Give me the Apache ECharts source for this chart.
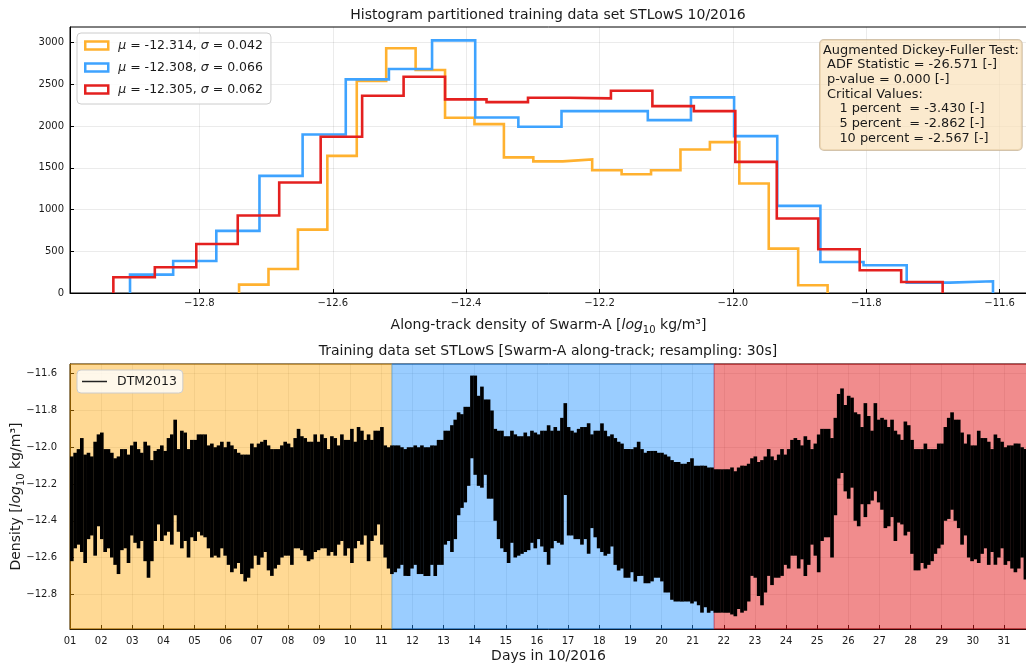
<!DOCTYPE html>
<html>
<head>
<meta charset="utf-8">
<script src="https://cdn.jsdelivr.net/npm/echarts@6/dist/echarts.min.js"></script>
<style>
  html, body { margin: 0; padding: 0; background: #ffffff; }
  #chart { width: 1026px; height: 667px; }
</style>
</head>
<body>
<div id="chart"></div>
<script>
// ---------- Histogram of the three partitions (20 bins each) ----------
const histNames = [
  'μ = -12.314, σ = 0.042',
  'μ = -12.308, σ = 0.066',
  'μ = -12.305, σ = 0.062'
];
// [first bin edge, last bin edge] per partition
const rangeOrange = [-12.7405, -11.858];
const rangeBlue = [-12.904, -11.610];
const rangeRed = [-12.929, -11.6855];
const countsOrange = [100, 288, 760, 1644, 2540, 2933, 2672, 2100, 2024, 1626,
                      1577, 1600, 1472, 1424, 1472, 1720, 1808, 1312, 532, 92];
const countsBlue = [220, 384, 744, 1404, 1900, 2560, 2684, 3028, 2104, 1992,
                    2180, 2180, 2072, 2344, 1880, 1044, 372, 332, 124, 140];
const countsRed = [188, 308, 588, 928, 1324, 1872, 2364, 2592, 2320, 2288,
                   2340, 2332, 2424, 2240, 2180, 1572, 892, 524, 272, 132];
const histTicksX = [-12.8, -12.6, -12.4, -12.2, -12.0, -11.8, -11.6];
const histTicksY = [0, 500, 1000, 1500, 2000, 2500, 3000];

const adfLines = [
  'Augmented Dickey-Fuller Test:',
  ' ADF Statistic = -26.571 [-]',
  ' p-value = 0.000 [-]',
  ' Critical Values:',
  '    1 percent  = -3.430 [-]',
  '    5 percent  = -2.862 [-]',
  '    10 percent = -2.567 [-]'
];

// ---------- DTM2013 along-track density (per-sample max / min) ----------
const sampleStartDay = 1.0;
const sampleStepDays = 0.1071;
const densityUpper = [
  -12.05,-12.03,-12.01,-11.95,-12.04,-12.03,-12.05,-11.97,-11.93,-11.92,
  -12.01,-12.01,-12.03,-12.06,-12.05,-12.01,-12.01,-12.04,-11.99,-11.97,
  -12.01,-12.03,-11.97,-11.99,-12.07,-12.02,-12.01,-11.99,-12.02,-11.95,
  -11.93,-11.85,-12.01,-11.91,-11.92,-12.01,-11.96,-11.96,-11.93,-11.93,
  -11.93,-11.99,-11.98,-12.00,-11.99,-11.97,-12.00,-11.97,-11.99,-12.01,
  -12.03,-12.04,-12.04,-12.04,-11.98,-12.00,-11.98,-11.97,-11.96,-11.99,
  -12.01,-12.01,-12.01,-11.99,-11.97,-11.98,-12.00,-11.95,-11.90,-11.94,
  -11.95,-11.97,-11.97,-11.93,-11.97,-11.93,-11.95,-12.01,-11.94,-11.95,
  -11.99,-11.93,-11.96,-11.96,-11.90,-11.97,-11.89,-11.91,-11.96,-11.93,
  -11.96,-11.91,-11.91,-11.89,-11.99,-12.00,-11.99,-11.99,-11.99,-12.00,
  -12.01,-12.00,-12.00,-11.99,-12.00,-11.99,-12.00,-12.00,-11.99,-11.99,
  -11.96,-11.96,-11.91,-11.91,-11.88,-11.85,-11.81,-11.82,-11.78,-11.78,
  -11.61,-11.61,-11.72,-11.67,-11.74,-11.74,-11.80,-11.90,-11.91,-11.91,
  -11.94,-11.94,-11.91,-11.93,-11.94,-11.94,-11.92,-11.94,-11.91,-11.92,
  -11.93,-11.91,-11.91,-11.88,-11.91,-11.89,-11.91,-11.84,-11.76,-11.89,
  -11.91,-11.92,-11.90,-11.89,-11.89,-11.87,-11.93,-11.91,-11.91,-11.87,
  -11.91,-11.94,-11.93,-11.95,-11.97,-11.98,-12.01,-12.01,-12.01,-12.00,
  -11.97,-12.01,-12.03,-12.02,-12.02,-12.02,-12.03,-12.03,-12.04,-12.05,
  -12.07,-12.08,-12.08,-12.09,-12.09,-12.08,-12.06,-12.10,-12.10,-12.10,
  -12.10,-12.11,-12.11,-12.12,-12.12,-12.12,-12.12,-12.12,-12.11,-12.13,
  -12.11,-12.10,-12.10,-12.09,-12.06,-12.05,-12.08,-12.07,-12.05,-12.01,
  -12.05,-12.07,-12.04,-12.01,-12.04,-12.01,-11.96,-11.95,-11.96,-11.99,
  -11.94,-11.96,-12.01,-11.98,-11.93,-11.90,-11.90,-11.90,-11.95,-11.84,
  -11.71,-11.68,-11.77,-11.72,-11.73,-11.81,-11.82,-11.89,-11.76,-11.83,
  -11.91,-11.76,-11.85,-11.84,-11.85,-11.89,-11.85,-11.91,-11.93,-11.96,
  -11.86,-11.88,-11.96,-12.01,-12.01,-12.01,-11.98,-12.01,-12.01,-12.01,
  -11.98,-11.98,-11.89,-11.84,-11.81,-11.85,-11.85,-11.92,-11.98,-11.93,
  -11.99,-11.99,-11.91,-11.95,-11.95,-11.97,-12.01,-11.93,-11.95,-11.97,
  -12.00,-11.99,-11.99,-11.98,-11.98,-12.00,-12.01
];
const densityLower = [
  -12.62,-12.55,-12.53,-12.57,-12.63,-12.50,-12.48,-12.59,-12.43,-12.50,
  -12.57,-12.55,-12.60,-12.64,-12.69,-12.56,-12.55,-12.63,-12.48,-12.52,
  -12.55,-12.51,-12.62,-12.71,-12.62,-12.51,-12.42,-12.51,-12.48,-12.46,
  -12.53,-12.37,-12.46,-12.55,-12.51,-12.60,-12.49,-12.51,-12.46,-12.48,
  -12.49,-12.55,-12.60,-12.59,-12.60,-12.55,-12.59,-12.64,-12.68,-12.66,
  -12.63,-12.69,-12.73,-12.71,-12.66,-12.59,-12.64,-12.60,-12.57,-12.67,
  -12.70,-12.66,-12.64,-12.60,-12.59,-12.59,-12.64,-12.55,-12.55,-12.56,
  -12.59,-12.62,-12.61,-12.57,-12.56,-12.55,-12.55,-12.59,-12.57,-12.59,
  -12.53,-12.51,-12.59,-12.55,-12.63,-12.55,-12.51,-12.53,-12.48,-12.62,
  -12.51,-12.48,-12.42,-12.53,-12.60,-12.66,-12.69,-12.68,-12.66,-12.64,
  -12.70,-12.70,-12.66,-12.64,-12.69,-12.69,-12.70,-12.70,-12.64,-12.70,
  -12.64,-12.64,-12.53,-12.51,-12.57,-12.50,-12.37,-12.33,-12.30,-12.21,
  -12.06,-12.15,-12.21,-12.22,-12.15,-12.28,-12.28,-12.40,-12.50,-12.55,
  -12.57,-12.63,-12.52,-12.60,-12.59,-12.58,-12.57,-12.56,-12.52,-12.55,
  -12.50,-12.54,-12.57,-12.64,-12.55,-12.51,-12.52,-12.53,-12.26,-12.48,
  -12.48,-12.50,-12.50,-12.53,-12.50,-12.58,-12.44,-12.49,-12.55,-12.57,
  -12.59,-12.58,-12.54,-12.64,-12.67,-12.66,-12.71,-12.71,-12.68,-12.73,
  -12.70,-12.70,-12.74,-12.74,-12.73,-12.71,-12.71,-12.73,-12.79,-12.79,
  -12.83,-12.84,-12.84,-12.84,-12.84,-12.84,-12.85,-12.84,-12.86,-12.90,
  -12.87,-12.90,-12.89,-12.90,-12.90,-12.90,-12.90,-12.90,-12.91,-12.92,
  -12.88,-12.90,-12.89,-12.84,-12.70,-12.71,-12.81,-12.86,-12.79,-12.70,
  -12.75,-12.71,-12.71,-12.70,-12.64,-12.66,-12.59,-12.59,-12.66,-12.61,
  -12.70,-12.64,-12.53,-12.59,-12.68,-12.51,-12.49,-12.49,-12.60,-12.37,
  -12.17,-12.14,-12.24,-12.28,-12.22,-12.40,-12.43,-12.31,-12.38,-12.31,
  -12.29,-12.24,-12.30,-12.34,-12.44,-12.43,-12.38,-12.51,-12.41,-12.42,
  -12.48,-12.46,-12.58,-12.67,-12.67,-12.63,-12.66,-12.64,-12.62,-12.58,
  -12.55,-12.53,-12.40,-12.39,-12.34,-12.40,-12.44,-12.53,-12.48,-12.60,
  -12.62,-12.61,-12.63,-12.58,-12.55,-12.64,-12.57,-12.64,-12.60,-12.55,
  -12.64,-12.62,-12.66,-12.68,-12.66,-12.60,-12.72
];
// day-of-month boundaries of the three training partitions
const partitionEdges = [1.0, 11.34, 21.69, 31.74];
const dayTicks = [1, 2, 3, 4, 5, 6, 7, 8, 9, 10, 11, 12, 13, 14, 15, 16,
                  17, 18, 19, 20, 21, 22, 23, 24, 25, 26, 27, 28, 29, 30, 31];
const densityTicks = [-12.8, -12.6, -12.4, -12.2, -12.0, -11.8, -11.6];

// ---------- styling ----------
const FONT = 'DejaVu Sans';
const histLineColors = ['#ffb12f', '#3ea3ff', '#e4201f'];
const bandColors = ['rgba(255,165,0,0.42)', 'rgba(30,144,255,0.45)', 'rgba(228,26,28,0.5)'];
const TEXT = '#1a1a1a';
const GRIDLINE = 'rgba(0,0,0,0.08)';

const minusFmt = (v, digits) => v.toFixed(digits).replace('-', '\u2212');

// step outline of a histogram (matplotlib histtype="step")
function stepOutline(range, counts) {
  const n = counts.length;
  const w = (range[1] - range[0]) / n;
  const pts = [[range[0], 0]];
  for (let i = 0; i < n; i++) {
    const a = range[0] + i * w, b = range[0] + (i + 1) * w;
    pts.push([a, counts[i]], [b, counts[i]]);
  }
  pts.push([range[1], 0]);
  return pts;
}

// one [day, max, min] record per sample; each is drawn as a min-to-max stroke
const densityRecords = densityUpper.map((hi, i) => [sampleStartDay + i * sampleStepDays, hi, densityLower[i]]);

const bandAreas = [];
for (let k = 0; k < 3; k++) {
  bandAreas.push([
    { xAxis: partitionEdges[k], itemStyle: { color: bandColors[k], borderColor: bandColors[k], borderWidth: 1 } },
    { xAxis: partitionEdges[k + 1] }
  ]);
}

const histRanges = [rangeOrange, rangeBlue, rangeRed];
const histCounts = [countsOrange, countsBlue, countsRed];
const histSeries = histNames.map((name, k) => ({
  name: name,
  type: 'line',
  xAxisIndex: 0,
  yAxisIndex: 0,
  data: stepOutline(histRanges[k], histCounts[k]),
  symbol: 'none',
  z: 3 + k,
  lineStyle: { color: histLineColors[k], width: 2.6, join: 'miter' },
  itemStyle: { color: histLineColors[k] },
  silent: true
}));

const axisNameRich = {
  it: { fontFamily: FONT, fontSize: 14, fontStyle: 'italic', color: TEXT, lineHeight: 20 },
  sub: { fontFamily: FONT, fontSize: 10, color: TEXT, lineHeight: 11, verticalAlign: 'bottom' },
  n: { fontFamily: FONT, fontSize: 14, color: TEXT, lineHeight: 20 }
};

const chart = echarts.init(document.getElementById('chart'), null, { renderer: 'canvas' });
chart.setOption({
  animation: false,
  textStyle: { fontFamily: FONT },
  title: [
    {
      text: 'Histogram partitioned training data set STLowS 10/2016',
      left: 548, top: 8, textAlign: 'center', padding: 0,
      textStyle: { fontFamily: FONT, fontSize: 14, fontWeight: 'normal', color: TEXT }
    },
    {
      text: 'Training data set STLowS [Swarm-A along-track; resampling: 30s]',
      left: 548, top: 344, textAlign: 'center', padding: 0,
      textStyle: { fontFamily: FONT, fontSize: 14, fontWeight: 'normal', color: TEXT }
    }
  ],
  grid: [
    { left: 70, right: -1, top: 27, height: 266, outerBoundsMode: 'none', containLabel: false,
      show: true, borderColor: '#000', borderWidth: 1, backgroundColor: 'transparent' },
    { left: 70, right: -1, top: 364, height: 265, outerBoundsMode: 'none', containLabel: false,
      show: true, borderColor: '#000', borderWidth: 1, backgroundColor: 'transparent' }
  ],
  legend: [
    {
      data: histNames.map((name, k) => ({
        name: name,
        icon: 'rect',
        itemStyle: { color: 'rgba(0,0,0,0)', borderColor: histLineColors[k], borderWidth: 2.5 }
      })),
      orient: 'vertical',
      left: 77, top: 33,
      itemWidth: 23, itemHeight: 8, itemGap: 7,
      padding: [5, 8, 7, 7],
      backgroundColor: 'rgba(255,255,255,0.85)',
      borderColor: '#cccccc', borderWidth: 1, borderRadius: 4,
      selectedMode: false,
      formatter: (name) => '{sp|}' + name.replace('μ', '{it|μ}').replace('σ', '{it|σ}'),
      textStyle: {
        fontFamily: FONT, fontSize: 12.5, color: TEXT, lineHeight: 15,
        rich: {
          sp: { width: 5 },
          it: { fontFamily: FONT, fontSize: 12.5, fontStyle: 'italic', color: TEXT }
        }
      }
    },
    {
      data: [{ name: 'DTM2013', icon: 'rect', itemStyle: { color: '#222' } }],
      left: 77, top: 370,
      itemWidth: 25, itemHeight: 1.5,
      padding: [4, 6, 4, 5],
      backgroundColor: 'rgba(255,255,255,0.8)',
      borderColor: '#cccccc', borderWidth: 1, borderRadius: 4,
      selectedMode: false,
      formatter: (name) => '{sp|}' + name,
      textStyle: {
        fontFamily: FONT, fontSize: 12.5, color: TEXT, lineHeight: 15,
        rich: { sp: { width: 5 } }
      }
    }
  ],
  xAxis: [
    {
      type: 'value', gridIndex: 0, min: -12.994, max: -11.559,
      name: '{n|Along-track density of Swarm-A [}{it|log}{sub|10}{n| kg/m³]}',
      nameLocation: 'middle', nameGap: 22, nameMoveOverlap: false,
      nameTextStyle: { fontFamily: FONT, fontSize: 14, color: TEXT, rich: axisNameRich },
      axisLine: { show: true, lineStyle: { color: '#000', width: 1 } },
      axisTick: { show: true, inside: true, length: 4, customValues: histTicksX, lineStyle: { color: '#000' } },
      axisLabel: { customValues: histTicksX, formatter: (v) => minusFmt(v, 1), fontSize: 10, color: TEXT, margin: 5, fontFamily: FONT },
      splitLine: { show: true, lineStyle: { color: GRIDLINE, width: 1 } }
    },
    {
      type: 'value', gridIndex: 1, min: 1, max: 31.74,
      name: 'Days in 10/2016',
      nameLocation: 'middle', nameGap: 20, nameMoveOverlap: false,
      nameTextStyle: { fontFamily: FONT, fontSize: 14, color: TEXT },
      axisLine: { show: true, lineStyle: { color: '#000', width: 1 } },
      axisTick: { show: true, inside: true, length: 4, customValues: dayTicks, lineStyle: { color: '#000' } },
      axisLabel: { customValues: dayTicks, formatter: (v) => String(Math.round(v)).padStart(2, '0'), fontSize: 10, color: TEXT, margin: 7, fontFamily: FONT },
      splitLine: { show: true, lineStyle: { color: GRIDLINE, width: 1 } }
    }
  ],
  yAxis: [
    {
      type: 'value', gridIndex: 0, min: 0, max: 3188,
      axisLine: { show: true, lineStyle: { color: '#000', width: 1 } },
      axisTick: { show: true, inside: true, length: 4, customValues: histTicksY, lineStyle: { color: '#000' } },
      axisLabel: { customValues: histTicksY, formatter: (v) => String(Math.round(v)), fontSize: 10, color: TEXT, margin: 6, fontFamily: FONT },
      splitLine: { show: true, lineStyle: { color: GRIDLINE, width: 1 } }
    },
    {
      type: 'value', gridIndex: 1, min: -12.989, max: -11.547,
      name: '{n|Density [}{it|log}{sub|10}{n| kg/m³]}',
      nameLocation: 'middle', nameGap: 44, nameRotate: 90, nameMoveOverlap: false,
      nameTextStyle: { fontFamily: FONT, fontSize: 14, color: TEXT, rich: axisNameRich },
      axisLine: { show: true, lineStyle: { color: '#000', width: 1 } },
      axisTick: { show: true, inside: true, length: 4, customValues: densityTicks, lineStyle: { color: '#000' } },
      axisLabel: { customValues: densityTicks, formatter: (v) => minusFmt(v, 1), fontSize: 10, color: TEXT, margin: 13, fontFamily: FONT },
      splitLine: { show: true, lineStyle: { color: GRIDLINE, width: 1 } }
    }
  ],
  graphic: [
    {
      type: 'text', left: 819, top: 39, z: 100,
      style: {
        text: adfLines.join('\n'),
        fontFamily: FONT, fontSize: 12.9, lineHeight: 14.7,
        fill: TEXT,
        backgroundColor: 'rgba(250,225,185,0.7)',
        borderColor: 'rgba(200,180,150,0.8)', borderWidth: 1, borderRadius: 4,
        padding: [3, 3, 4, 3]
      }
    }
  ],
  series: histSeries.concat([
    {
      name: 'partitions',
      type: 'line',
      xAxisIndex: 1, yAxisIndex: 1,
      data: [],
      z: 1,
      silent: true,
      markArea: { silent: true, data: bandAreas }
    },
    {
      name: 'DTM2013',
      type: 'custom',
      xAxisIndex: 1, yAxisIndex: 1,
      data: densityRecords,
      encode: { x: 0, y: [1, 2] },
      z: 5,
      silent: true,
      clip: true,
      itemStyle: { color: '#000' },
      renderItem: (params, api) => {
        const t = api.value(0);
        const top = api.coord([t, api.value(1)]);
        const bottom = api.coord([t + sampleStepDays, api.value(2)]);
        return {
          type: 'rect',
          shape: { x: top[0], y: top[1], width: bottom[0] - top[0] + 0.3, height: bottom[1] - top[1] },
          style: { fill: '#000' }
        };
      }
    }
  ])
});
</script>
</body>
</html>
